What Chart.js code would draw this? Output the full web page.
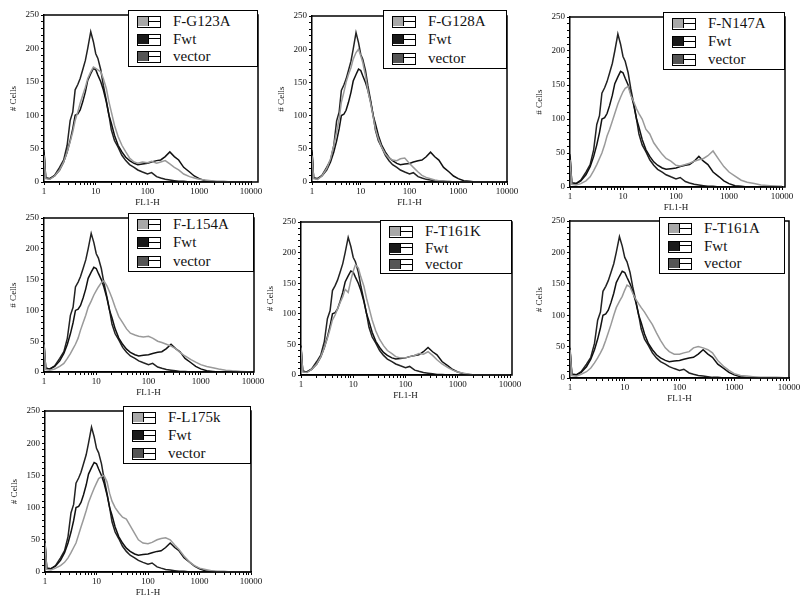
<!DOCTYPE html>
<html>
<head>
<meta charset="utf-8">
<script src="https://cdn.jsdelivr.net/npm/chart.js@4.4.1/dist/chart.umd.min.js"></script>
<style>
  body { margin: 0; width: 800px; height: 601px; background: #fff; position: relative; overflow: hidden; font-family: "Liberation Serif", "DejaVu Serif", serif; }
  canvas { position: absolute; }
  .legend { position: absolute; box-sizing: border-box; border: 1.5px solid #000; background: #fff; font-family: "Liberation Serif", "DejaVu Serif", serif; }
  .legend .row { position: absolute; left: 0; height: 17px; line-height: 17px; font-size: 15px; color: #111; white-space: nowrap; }
  .legend .sw { position: absolute; left: 8px; top: 3px; width: 24px; height: 12px; box-sizing: border-box; border: 1.5px solid #000; background: #fff; }
  .legend .sw i { position: absolute; left: 0; top: 0; width: 10px; height: 9px; border-right: 1.5px solid #000; }
  .legend .sw::after { content: ''; position: absolute; left: 11px; right: 0; top: 3.5px; border-top: 1.5px solid #000; }
  .legend .txt { position: absolute; left: 44px; top: 0; }
</style>
</head>
<body>
<script>
// FL1-H channel positions (log scale) shared by every histogram
const fl1h = [1, 1.08, 1.3, 1.6, 2, 2.4, 2.8, 3.2, 3.6, 4, 4.5, 5, 5.6, 6.3, 7, 8, 9, 10, 11, 12.5,
  14, 16, 18, 20, 23, 27, 32, 38, 45, 55, 65, 80, 100, 120, 150, 180, 220, 270, 330, 400,
  500, 650, 800, 1000, 1300, 1700, 2200, 3000, 4000, 6000, 10000];

// control curves, same in every panel
const vectorCells = [48, 6, 5, 10, 22, 33, 55, 92, 105, 138, 146, 155, 168, 182, 200, 225, 210, 192, 185, 168,
  145, 122, 100, 78, 62, 52, 40, 32, 26, 22, 18, 15, 12, 14, 8, 6, 4, 3, 2, 1,
  1, 0, 0, 0, 0, 0, 0, 0, 0, 0, 0];
const fwtCells = [45, 6, 5, 9, 18, 30, 45, 62, 80, 100, 102, 108, 120, 135, 152, 162, 170, 168, 160, 150,
  138, 120, 100, 88, 70, 55, 45, 37, 32, 28, 26, 27, 28, 30, 32, 33, 38, 45, 38, 33,
  22, 15, 9, 5, 2, 1, 0, 0, 0, 0, 0];

const mutantNames = ['F-G123A', 'F-G128A', 'F-N147A', 'F-L154A', 'F-T161K', 'F-T161A', 'F-L175k'];
const g123aCells = [40, 5, 4, 9, 18, 30, 45, 60, 75, 92, 105, 118, 130, 142, 155, 165, 172, 170, 168, 165,
  155, 140, 120, 105, 85, 68, 55, 45, 36, 30, 28, 30, 29, 31, 28, 30, 32, 27, 22, 18,
  12, 8, 6, 4, 3, 2, 1, 1, 0, 0, 0];
const g128aCells = [40, 5, 4, 9, 20, 35, 55, 75, 95, 120, 135, 150, 162, 172, 185, 195, 200, 190, 180, 160,
  138, 118, 98, 80, 65, 52, 42, 36, 33, 32, 35, 36, 28, 22, 15, 10, 7, 5, 3, 2,
  1, 1, 0, 0, 0, 0, 0, 0, 0, 0, 0];
const n147aCells = [40, 4, 3, 5, 9, 15, 24, 33, 42, 50, 62, 75, 85, 97, 108, 122, 132, 140, 145, 148,
  135, 125, 115, 108, 100, 85, 78, 65, 57, 48, 42, 38, 32, 31, 33, 35, 38, 40, 42, 46,
  53, 40, 30, 22, 16, 10, 7, 5, 3, 2, 1];
const l154aCells = [45, 4, 3, 5, 9, 14, 22, 30, 38, 45, 55, 68, 80, 92, 105, 115, 125, 132, 138, 145,
  148, 140, 130, 120, 105, 90, 80, 70, 63, 60, 58, 57, 58, 55, 50, 48, 45, 42, 38, 32,
  26, 20, 16, 12, 9, 7, 5, 3, 2, 1, 0];
const t161kCells = [45, 5, 4, 9, 18, 30, 45, 60, 75, 90, 98, 108, 118, 128, 140, 135, 155, 170, 180, 175,
  160, 145, 125, 110, 90, 72, 58, 48, 40, 35, 30, 28, 28, 30, 32, 35, 34, 38, 32, 25,
  18, 12, 8, 5, 3, 1, 0, 0, 0, 0, 0];
const t161aCells = [45, 4, 3, 6, 10, 16, 24, 32, 40, 48, 60, 72, 85, 100, 112, 122, 130, 140, 148, 145,
  135, 125, 118, 112, 105, 95, 85, 72, 60, 48, 42, 38, 38, 40, 42, 48, 50, 48, 45, 40,
  28, 18, 12, 7, 4, 3, 2, 1, 1, 1, 0];
const l175kCells = [45, 4, 3, 6, 10, 15, 22, 30, 38, 45, 58, 70, 82, 95, 108, 120, 130, 138, 145, 148,
  150, 140, 122, 110, 100, 92, 85, 82, 72, 60, 50, 45, 44, 46, 50, 52, 53, 50, 42, 35,
  25, 15, 10, 6, 4, 2, 1, 1, 0, 0, 0];
const mutantCells = [g123aCells, g128aCells, n147aCells, l154aCells, t161kCells, t161aCells, l175kCells];

const xTickLabels = [1, 10, 100, 1000, 10000];
const yTickLabels = [0, 50, 100, 150, 200, 250];

// page geometry: plot rectangle (value 1..10000, 0..250) and legend box per panel
const panels = [
  { plot: [44, 15, 251, 182], legend: [128, 10, 258, 67] },
  { plot: [312, 16, 507, 182], legend: [383, 10, 507, 69] },
  { plot: [570, 17, 782, 187], legend: [663, 12, 785, 70] },
  { plot: [44, 218, 253, 372], legend: [128, 213, 254, 272] },
  { plot: [301, 222, 510, 375], legend: [380, 220, 512, 274] },
  { plot: [570, 221, 789, 378], legend: [659, 217, 785, 274] },
  { plot: [45, 411, 251, 572], legend: [123, 406, 251, 464] }
];

const AXIS_W = 36, AXIS_H = 26, PAD_T = 12;

const framePlugin = {
  id: 'frame',
  afterDraw(chart, args, opts) {
    const { ctx, chartArea: a } = chart;
    ctx.save();
    ctx.strokeStyle = '#000';
    ctx.lineWidth = 1.5;
    ctx.beginPath();
    ctx.moveTo(a.left, a.top);
    ctx.lineTo(opts.right, a.top);
    ctx.lineTo(opts.right, a.bottom);
    ctx.lineTo(a.left, a.bottom);
    ctx.stroke();
    ctx.restore();
  }
};

function series(vals) {
  return fl1h.map((x, i) => ({ x: x, y: vals[i] }));
}

const tickFont = { family: '"Liberation Serif", serif', size: 9 };

panels.forEach((p, k) => {
  const [l, t, r, b] = p.plot;
  const frameR = Math.max(r, p.legend[2]);
  const canvas = document.createElement('canvas');
  const cl = l - AXIS_W, ct = t - PAD_T;
  const w = frameR - l + AXIS_W + 16;
  const h = b - t + PAD_T + AXIS_H;
  canvas.width = w; canvas.height = h;
  canvas.style.left = cl + 'px'; canvas.style.top = ct + 'px';
  canvas.style.width = w + 'px'; canvas.style.height = h + 'px';
  document.body.appendChild(canvas);

  new Chart(canvas.getContext('2d'), {
    type: 'line',
    data: {
      datasets: [
        { label: mutantNames[k], data: series(mutantCells[k]), borderColor: '#9a9a9a', borderWidth: 1.5 },
        { label: 'Fwt', data: series(fwtCells), borderColor: '#111', borderWidth: 1.5 },
        { label: 'vector', data: series(vectorCells), borderColor: '#222', borderWidth: 1.5 }
      ]
    },
    options: {
      responsive: false,
      animation: false,
      devicePixelRatio: 1,
      layout: { padding: { top: PAD_T, right: frameR - r + 16, left: 0, bottom: 0 } },
      elements: { point: { radius: 0 }, line: { tension: 0 } },
      plugins: { legend: { display: false }, tooltip: { enabled: false }, frame: { right: frameR - cl } },
      scales: {
        x: {
          type: 'logarithmic',
          min: 1, max: 10000,
          afterBuildTicks: function (scale) {
            const ticks = [];
            for (let d = 1; d < 10000; d *= 10) {
              for (let m = 1; m < 10; m++) ticks.push({ value: m * d });
            }
            ticks.push({ value: 10000 });
            scale.ticks = ticks;
          },
          afterFit: function (scale) { scale.height = AXIS_H; },
          ticks: {
            autoSkip: false, maxRotation: 0, minRotation: 0, padding: 1,
            color: '#111', font: tickFont,
            callback: function (v) { return xTickLabels.includes(v) ? String(v) : ''; }
          },
          grid: { drawOnChartArea: false, drawTicks: true, tickLength: 3, color: '#000', tickWidth: 1 },
          border: { display: true, color: '#000', width: 1.5 },
          title: { display: true, text: 'FL1-H', color: '#111', font: tickFont, padding: 0 }
        },
        y: {
          min: 0, max: 250,
          afterFit: function (scale) { scale.width = AXIS_W; },
          ticks: {
            stepSize: 10, autoSkip: false, padding: 2,
            color: '#111', font: tickFont,
            callback: function (v) { return yTickLabels.includes(v) ? String(v) : ''; }
          },
          grid: { drawOnChartArea: false, drawTicks: true, tickLength: 3, color: '#000', tickWidth: 1 },
          border: { display: true, color: '#000', width: 1.5 },
          title: { display: true, text: '# Cells', color: '#111', font: tickFont, padding: 0 }
        }
      }
    },
    plugins: [framePlugin]
  });

  // legend box
  const [ll, lt, lr, lb] = p.legend;
  const lg = document.createElement('div');
  lg.className = 'legend';
  lg.style.left = ll + 'px'; lg.style.top = lt + 'px';
  lg.style.width = (lr - ll) + 'px'; lg.style.height = (lb - lt) + 'px';
  const rows = [[mutantNames[k], '#a8a8a8'], ['Fwt', '#1a1a1a'], ['vector', '#555']];
  const step = (lb - lt - 4) / 3;
  rows.forEach((row, i) => {
    const d = document.createElement('div');
    d.className = 'row';
    d.style.top = (2 + i * step) + 'px';
    d.innerHTML = '<span class="sw"><i style="background:' + row[1] + '"></i></span><span class="txt"></span>';
    d.querySelector('.txt').textContent = row[0];
    lg.appendChild(d);
  });
  document.body.appendChild(lg);
});
</script>
</body>
</html>
